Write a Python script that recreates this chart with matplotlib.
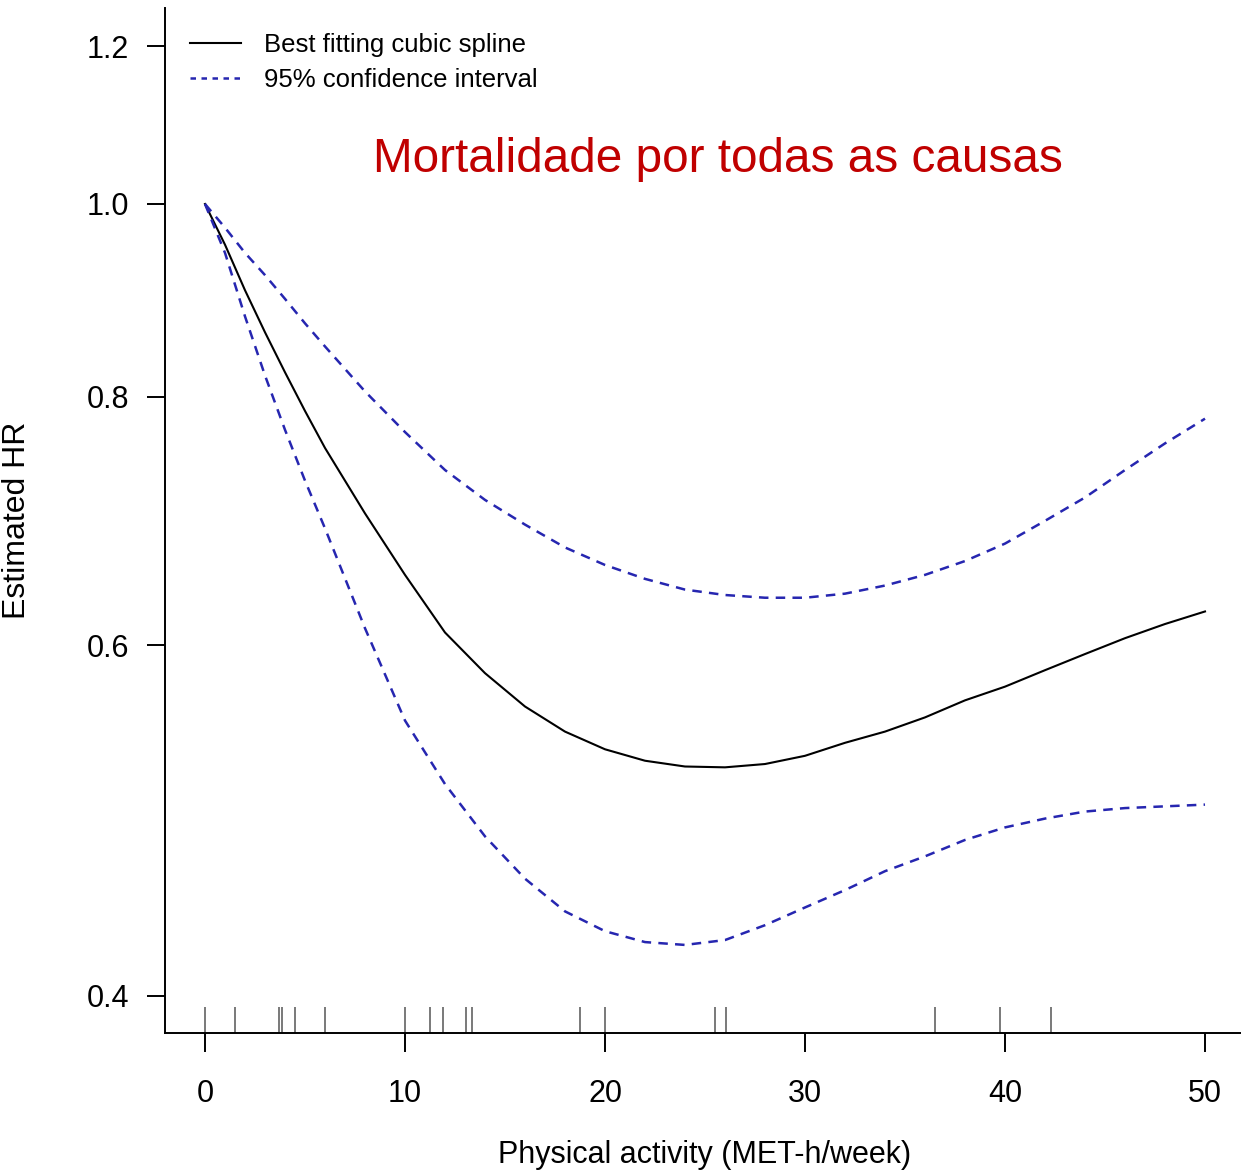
import numpy as np
import matplotlib
matplotlib.use("Agg")
import matplotlib.pyplot as plt
from matplotlib.lines import Line2D

plt.rcParams['font.family'] = ['Liberation Sans', 'DejaVu Sans']

# physical activity grid (MET-h/week)
met = [0, 1, 2, 3, 4, 5, 6, 8, 10, 12, 14, 16, 18, 20, 22, 24, 26, 28, 30,
       32, 34, 36, 38, 40, 42, 44, 46, 48, 50]

# estimated hazard ratio from the cubic spline fit
hr_fit = [1.0, 0.954, 0.905, 0.862, 0.823, 0.787, 0.754, 0.699, 0.651, 0.609,
          0.581, 0.559, 0.543, 0.532, 0.525, 0.5215, 0.521, 0.523, 0.528,
          0.536, 0.543, 0.552, 0.563, 0.572, 0.583, 0.594, 0.605, 0.615, 0.624]

# 95% confidence bounds
hr_upper = [1.0, 0.973, 0.945, 0.921, 0.896, 0.871, 0.848, 0.805, 0.768, 0.735,
            0.710, 0.690, 0.672, 0.6585, 0.648, 0.640, 0.636, 0.634, 0.634,
            0.637, 0.643, 0.651, 0.6615, 0.675, 0.693, 0.712, 0.735, 0.758, 0.780]
hr_lower = [1.0, 0.945, 0.878, 0.820, 0.770, 0.726, 0.687, 0.612, 0.550, 0.511,
            0.481, 0.458, 0.441, 0.431, 0.4256, 0.4242, 0.4266, 0.434, 0.443,
            0.452, 0.462, 0.470, 0.479, 0.486, 0.491, 0.495, 0.497, 0.498, 0.499]

# observed exposure values shown as a rug
rug_x = [0, 1.5, 3.7, 3.87, 4.5, 6.0, 10.0, 11.27, 11.9, 13.05, 13.36,
         18.73, 20.0, 25.5, 26.05, 36.5, 39.75, 42.3]

xticks = [0, 10, 20, 30, 40, 50]
yticks = [0.4, 0.6, 0.8, 1.0, 1.2]

W, H = 1241, 1171
fig = plt.figure(figsize=(W / 100, H / 100), dpi=100)
ax = fig.add_axes([165 / W, 138 / H, 1080 / W, 1025 / H])

blue = '#2626b0'
ax.plot(met, hr_fit, color='black', lw=1.5)
ax.plot(met, hr_upper, color=blue, lw=1.8, dashes=(3.8, 2.9))
ax.plot(met, hr_lower, color=blue, lw=1.8, dashes=(3.8, 2.9))

# rug along the bottom
ax.vlines(rug_x, 0, 0.0254, transform=ax.get_xaxis_transform(),
          color='#555555', lw=1.1)

ax.set_yscale('log')
ax.set_xlim(-2, 52)
ax.set_ylim(0.38309, 1.25464)
ax.set_xticks(xticks)
ax.set_xticklabels([str(t) for t in xticks])
ax.set_yticks(yticks)
ax.set_yticklabels(['%.1f' % t for t in yticks])
ax.yaxis.set_minor_locator(matplotlib.ticker.NullLocator())

for s in ['top', 'right']:
    ax.spines[s].set_visible(False)
for s in ['left', 'bottom']:
    ax.spines[s].set_linewidth(1.4)

ax.tick_params(axis='x', length=14, width=1.4, pad=19, labelsize=22)
ax.tick_params(axis='y', length=13, width=1.4, pad=13, labelsize=22)

ax.set_xlabel('Physical activity (MET-h/week)', fontsize=22)
ax.xaxis.set_label_coords(0.5, -(1140 - 1033) / 1025)
ax.set_ylabel('Estimated HR', fontsize=23)
ax.yaxis.set_label_coords(-(165 - 32) / 1080, 0.5)

fig.text(717.5 / W, 1 - 159 / H, 'Mortalidade por todas as causas',
         color='#c00000', fontsize=34.4, ha='center', va='center')

handles = [Line2D([], [], color='black', lw=1.5),
           Line2D([], [], color=blue, lw=1.8, dashes=(2.2, 2.2))]
ax.legend(handles, ['Best fitting cubic spline', '95% confidence interval'],
          loc='center left', bbox_to_anchor=(190 / W, 1 - 62.5 / H),
          bbox_transform=fig.transFigure, frameon=False, fontsize=18.5,
          borderpad=0, borderaxespad=0, handlelength=1.98,
          handletextpad=0.9, labelspacing=0.4)

fig.savefig('out.png', dpi=100)
